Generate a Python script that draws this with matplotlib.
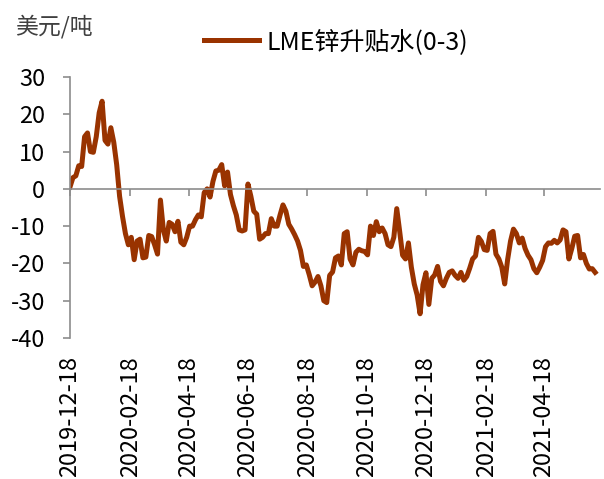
import matplotlib
matplotlib.use("Agg")
import matplotlib.pyplot as plt
import pandas as pd

plt.rcParams["font.family"] = ["Noto Sans CJK SC", "DejaVu Sans"]

# LME锌升贴水(0-3), 美元/吨, sampled every 3 days from 2019-12-18
start_date = "2019-12-18"
step = "3D"
spread = [
    0.5, 3, 3.5, 6.2, 6, 14, 15, 10, 9.8, 14,
    20.4, 23.5, 13, 12, 16.4, 12.5, 6.5, -2, -7.4, -12,
    -15, -13, -19, -14, -13.5, -18.5, -18.3, -12.5, -12.8, -15,
    -17.5, -3, -11, -14, -9, -9.5, -11.5, -8.7, -14.3, -15,
    -13, -10, -10, -8.3, -7, -7.5, -1, 0, -2.2, 2,
    4.8, 5, 6.5, 0.8, 4.5, -1.5, -4.5, -7, -11, -11.3,
    -11, 1.3, -2, -6, -6.8, -13.5, -13, -12, -12, -8,
    -10, -10, -7, -4.3, -6, -9.5, -10.8, -12.3, -14, -16.5,
    -20.8, -20.4, -23, -26, -25, -23.5, -26, -30, -30.5, -23.2,
    -22.3, -18.5, -18, -20.4, -12, -11.5, -18.8, -20.4, -17, -16.2,
    -16.6, -16.8, -17.7, -10, -12.5, -8.8, -11.5, -10.5, -12, -15,
    -15.5, -13, -5.3, -11.4, -17.8, -18.8, -14.5, -21, -25.5, -28.5,
    -33.5, -25.7, -22.5, -31, -24, -23.1, -20.8, -24.8, -26, -24,
    -22.4, -22, -23.2, -24, -22.4, -24.5, -23.5, -21.3, -18.8, -18,
    -13, -14.1, -16.3, -16.5, -12, -11.4, -17.5, -18.8, -21, -25.5,
    -19, -14, -10.8, -12, -14.5, -13.2, -16, -17.8, -19, -21.4,
    -22.5, -21, -19.2, -15.5, -14.5, -14.6, -13.8, -14.5, -13.7, -11,
    -11.5, -18.8, -16, -12.7, -12.5, -18.5, -17.6, -20, -21.5, -21.4,
    -22.4,
]
tick_dates = [
    "2019-12-18", "2020-02-18", "2020-04-18", "2020-06-18", "2020-08-18",
    "2020-10-18", "2020-12-18", "2021-02-18", "2021-04-18",
]
y_ticks = [30, 20, 10, 0, -10, -20, -30, -40]

dates = pd.date_range(start_date, periods=len(spread), freq=step)
line_color = "#993300"
axis_color = "#8c8c8c"

fig = plt.figure(figsize=(6.04, 4.79), dpi=100)
ax = fig.add_axes([70 / 604, 1 - 338 / 479, 530 / 604, 261 / 479])

ax.plot(dates, spread, color=line_color, linewidth=3.6,
        solid_joinstyle="round", label="LME锌升贴水(0-3)")

ax.set_ylim(-40, 30)
ax.set_yticks(y_ticks)
ax.set_yticklabels([str(v) for v in y_ticks])
ax.set_xlim(pd.Timestamp(start_date), pd.Timestamp(start_date) + pd.Timedelta(days=545))

for side in ["top", "right"]:
    ax.spines[side].set_visible(False)
ax.spines["left"].set_color(axis_color)
ax.spines["left"].set_linewidth(1.2)
ax.spines["bottom"].set_position(("data", 0))
ax.spines["bottom"].set_color(axis_color)
ax.spines["bottom"].set_linewidth(1.2)

ticks = [pd.Timestamp(d) for d in tick_dates]
ax.set_xticks(ticks)
ax.set_xticklabels([""] * len(ticks))
ax.tick_params(axis="x", direction="out", length=5, width=1.2, color=axis_color)
ax.tick_params(axis="y", direction="out", length=5, width=1.2, color=axis_color,
               labelsize=17, pad=13)

trans = ax.get_xaxis_transform()
for t, lbl in zip(ticks, tick_dates):
    ax.text(t, -0.07, lbl, transform=trans, rotation=90, ha="center",
            va="top", fontsize=17, color="black")

fig.text(15 / 604, 1 - 27 / 479, "美元/吨", fontsize=16.5, color="#404040",
         ha="left", va="center")

ax.legend(loc="center", bbox_to_anchor=(336 / 604, 1 - 42 / 479),
          bbox_transform=fig.transFigure, frameon=False, fontsize=18,
          handlelength=2.2, handletextpad=0.3)

fig.savefig("out.png", dpi=100)
